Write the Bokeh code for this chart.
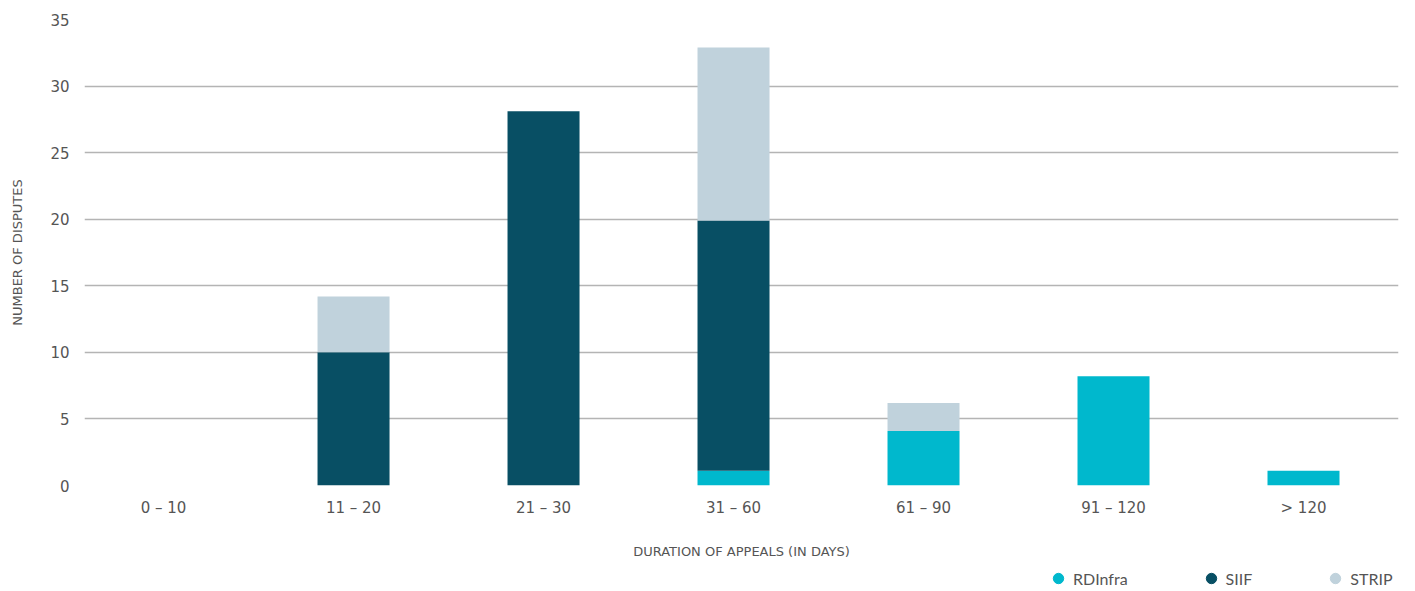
from bokeh.plotting import figure
from bokeh.layouts import column
from bokeh.models import Range1d, FixedTicker, Legend, LegendItem, ColumnDataSource
from bokeh.embed import file_html
from bokeh.resources import INLINE

categories = ["0 – 10", "11 – 20", "21 – 30", "31 – 60", "61 – 90", "91 – 120", "> 120"]
series = ["RDInfra", "SIIF", "STRIP"]
rdinfra = [0, 0, 0, 1.1, 4.1, 8.2, 1.1]
siif = [0, 10, 28.1, 18.8, 0, 0, 0]
strip = [0, 4.2, 0, 13, 2.1, 0, 0]
colors = ["#00b8cd", "#084f64", "#c0d2dc"]
y_ticks = [0, 5, 10, 15, 20, 25, 30, 35]

xs = list(range(len(categories)))
src = ColumnDataSource(dict(x=xs, RDInfra=rdinfra, SIIF=siif, STRIP=strip))

FONT = "DejaVu Sans"
GRAY = "#555555"

p = figure(width=1415, height=561, output_backend="svg", toolbar_location=None,
           x_range=Range1d(-0.416, 6.5), y_range=Range1d(0, 35),
           min_border_left=84, min_border_right=17, min_border_top=19, min_border_bottom=76)
p.outline_line_color = None
p.background_fill_color = "white"

rs = p.vbar_stack(series, x="x", width=0.379, source=src, color=colors, line_color=None)

p.xaxis.ticker = FixedTicker(ticks=xs)
p.xaxis.major_label_overrides = {i: c for i, c in enumerate(categories)}
p.yaxis.ticker = FixedTicker(ticks=y_ticks)
for ax in (p.xaxis, p.yaxis):
    ax.axis_line_color = None
    ax.major_tick_line_color = None
    ax.minor_tick_line_color = None
    ax.major_label_text_font = FONT
    ax.major_label_text_font_size = "15px"
    ax.major_label_text_color = GRAY
    ax.axis_label_text_font = FONT
    ax.axis_label_text_font_size = "13px"
    ax.axis_label_text_color = GRAY
    ax.axis_label_text_font_style = "normal"
p.xaxis.major_label_standoff = 7
p.yaxis.major_label_standoff = 9
p.xaxis.axis_label = "DURATION OF APPEALS (IN DAYS)"
p.yaxis.axis_label = "NUMBER OF DISPUTES"
p.xaxis.axis_label_standoff = 24
p.yaxis.axis_label_standoff = 22

p.xgrid.grid_line_color = None
p.ygrid.grid_line_color = "#b4b4b4"
p.ygrid.grid_line_width = 1.5

# legend strip below the chart
lg = figure(width=1415, height=30, output_backend="svg", toolbar_location=None,
            x_range=Range1d(0, 1), y_range=Range1d(0, 1),
            min_border_left=0, min_border_right=0, min_border_top=0, min_border_bottom=0)
lg.outline_line_color = None
lg.axis.visible = False
lg.grid.grid_line_color = None
items = []
for s, c in zip(series, colors):
    r = lg.scatter(x=[5], y=[5], marker="circle", size=12, color=c)
    items.append(LegendItem(label=s, renderers=[r]))

legend = Legend(items=items, orientation="horizontal", location=(961, 0),
                glyph_width=26, glyph_height=26, label_standoff=2, spacing=70,
                label_text_font="Lato", label_text_font_size="16px", label_text_color=GRAY,
                background_fill_alpha=0, border_line_color=None, padding=0, margin=0)
lg.add_layout(legend)

layout = column(p, lg, spacing=0)
open("out.html", "w").write(file_html(layout, INLINE))
